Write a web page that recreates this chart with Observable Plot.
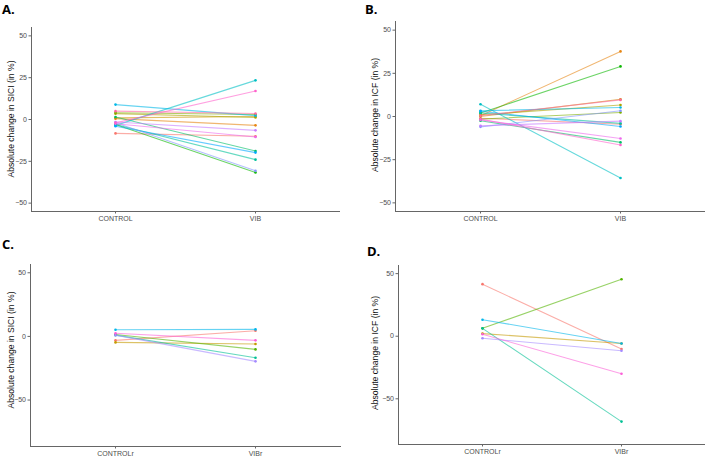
<!DOCTYPE html>
<html><head><meta charset="utf-8">
<script src="https://cdn.jsdelivr.net/npm/d3@7"></script>
<script src="https://cdn.jsdelivr.net/npm/@observablehq/plot@0.6"></script>
<style>
body{margin:0;background:#fff;}
#wrap{position:relative;width:709px;height:460px;overflow:hidden;font-family:"Liberation Sans",Arial,sans-serif;}
.panel{position:absolute;}
.panel svg text{fill:#4d4d4d;}
.ttl{position:absolute;font-family:"Open Sans","Liberation Sans",sans-serif;font-weight:bold;font-size:13px;line-height:1;}
.ylab{position:absolute;font-size:8.6px;color:#111;white-space:nowrap;transform:translate(-50%,-50%) rotate(-90deg);line-height:1;}
</style></head><body><div id="wrap"></div>
<script>
// ---- data ----
const subjectsAB = ["S1","S2","S3","S4","S5","S6","S7","S8","S9","S10","S11","S12","S13","S14","S15","S16"];
const subjectsCD = ["R1","R2","R3","R4","R5","R6","R7"];
const conditionsAB = ["CONTROL","VIB"];
const conditionsCD = ["CONTROLr","VIBr"];

const siciControl = [-8.3, 0.5, 1.0, 3.5, 4.0, -3.0, 1.5, -3.0, -3.5, 8.9, -4.0, -2.0, -1.5, -2.5, -2.0, 5.0];
const siciVib     = [-10.0, -3.5, 1.8, 1.2, 3.0, -31.7, -18.8, -24.0, 23.4, 2.3, -19.8, -30.7, -6.5, -10.5, 17.0, 3.6];

const icfControl = [-1.0, 0.5, 0.0, 1.0, -1.5, 2.0, -2.5, 2.0, 7.1, 3.3, 3.0, -6.0, -5.4, -2.0, -1.5, 0.5];
const icfVib     = [-4.5, 37.7, 10.0, 6.7, 2.3, 29.0, -15.0, -4.0, -35.6, 5.2, -5.8, 3.3, -2.7, -12.7, -16.5, 9.6];

const siciRControl = [-3.1, -4.7, 1.5, 1.0, 5.2, 1.0, 2.5];
const siciRVib     = [4.5, -6.0, -10.2, -16.8, 5.5, -19.6, -3.1];

const icfRControl = [41.6, 2.1, 6.3, 6.3, 13.2, -1.6, 1.6];
const icfRVib     = [-10.3, -5.8, 45.5, -68.2, -5.8, -11.6, -30.0];

const ticksAB = [-50, -25, 0, 25, 50];
const ticksCD = [-50, 0, 50];

// ggplot default hue palettes
const palette16 = ["#F8766D","#E68613","#CD9600","#ABA300","#7CAE00","#0CB702","#00BE67","#00C19A",
                   "#00BFC4","#00B8E7","#00A9FF","#8494FF","#C77CFF","#ED68ED","#FF61CC","#FF68A1"];
const palette7 = ["#F8766D","#C49A00","#53B400","#00C094","#00B6EB","#A58AFF","#FB61D7"];

function rows(subjects, conds, a, b) {
  const r = [];
  subjects.forEach((s, i) => {
    r.push({subject: s, cond: conds[0], value: a[i]});
    r.push({subject: s, cond: conds[1], value: b[i]});
  });
  return r;
}

const wrap = document.getElementById("wrap");

function panel(cfg) {
  const data = rows(cfg.subjects, cfg.conds, cfg.a, cfg.b);
  const chart = Plot.plot({
    width: cfg.w, height: cfg.h,
    marginLeft: cfg.ml, marginRight: cfg.mr, marginTop: cfg.mt, marginBottom: cfg.mb,
    style: {fontSize: "7px", color: "#666", background: "transparent", fontFamily: "'Liberation Sans', Arial, sans-serif"},
    x: {type: "point", domain: cfg.conds, padding: 0.6, label: null, line: true, tickSize: 2.5, tickPadding: 2},
    y: {domain: cfg.domain, ticks: cfg.ticks, label: null, line: true, tickSize: 2.5, tickPadding: 2},
    color: {type: "ordinal", domain: cfg.subjects, range: cfg.palette},
    marks: [
      Plot.line(data, {x: "cond", y: "value", z: "subject", stroke: "subject", strokeOpacity: 0.6, strokeWidth: 1.1}),
      Plot.dot(data, {x: "cond", y: "value", fill: "subject", r: 1.3})
    ]
  });
  const div = document.createElement("div");
  div.className = "panel";
  div.style.left = cfg.left + "px";
  div.style.top = cfg.top + "px";
  div.appendChild(chart);
  wrap.appendChild(div);

  const t = document.createElement("div");
  t.className = "ttl";
  t.textContent = cfg.title;
  t.style.left = cfg.tx + "px";
  t.style.top = cfg.ty + "px";
  wrap.appendChild(t);

  const yl = document.createElement("div");
  yl.className = "ylab";
  yl.textContent = cfg.ylabel;
  yl.style.left = cfg.lx + "px";
  yl.style.top = cfg.ly + "px";
  wrap.appendChild(yl);
}

panel({title: "A.", tx: 2, ty: 2.5, ylabel: "Absolute change in SICI (in %)", lx: 11, ly: 119,
  subjects: subjectsAB, conds: conditionsAB, a: siciControl, b: siciVib, palette: palette16,
  domain: [-55, 55], ticks: ticksAB,
  left: 0, top: 0, w: 354, h: 230, ml: 31, mr: 15, mt: 27, mb: 19});

panel({title: "B.", tx: 365, ty: 2.5, ylabel: "Absolute change in ICF (in %)", lx: 375, ly: 115,
  subjects: subjectsAB, conds: conditionsAB, a: icfControl, b: icfVib, palette: palette16,
  domain: [-55, 55], ticks: ticksAB,
  left: 354, top: 0, w: 355, h: 230, ml: 41, mr: 5, mt: 21, mb: 19});

panel({title: "C.", tx: 2, ty: 238, ylabel: "Absolute change in SICI (in %)", lx: 11, ly: 350,
  subjects: subjectsCD, conds: conditionsCD, a: siciRControl, b: siciRVib, palette: palette7,
  domain: [-86.5, 56.5], ticks: ticksCD,
  left: 0, top: 230, w: 354, h: 230, ml: 30, mr: 14, mt: 34, mb: 14});

panel({title: "D.", tx: 367, ty: 245, ylabel: "Absolute change in ICF (in %)", lx: 375, ly: 353,
  subjects: subjectsCD, conds: conditionsCD, a: icfRControl, b: icfRVib, palette: palette7,
  domain: [-86.5, 56.5], ticks: ticksCD,
  left: 354, top: 230, w: 355, h: 230, ml: 44, mr: 5, mt: 35, mb: 16});
</script>
</body></html>
